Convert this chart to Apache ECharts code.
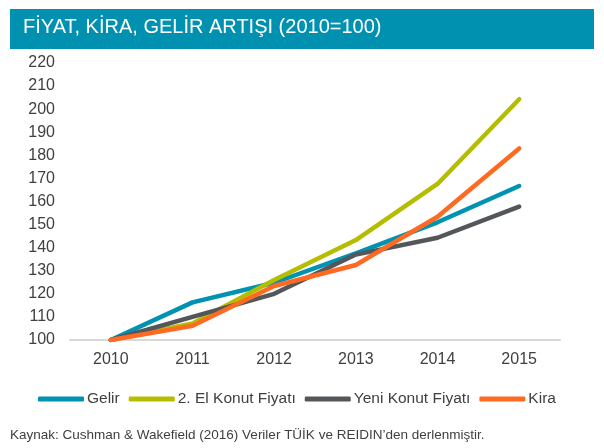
<!DOCTYPE html>
<html>
<head>
<meta charset="utf-8">
<script src="https://cdn.jsdelivr.net/npm/echarts@6/dist/echarts.min.js"></script>
<style>
html,body{margin:0;padding:0;background:#fff;}
#wrap{position:relative;width:604px;height:448px;}
#chart{position:absolute;left:0;top:0;width:604px;height:448px;}
</style>
</head>
<body>
<div id="wrap"><div id="chart"></div></div>
<script>
const titleText = 'FİYAT, KİRA, GELİR ARTIŞI (2010=100)';
const sourceText = 'Kaynak: Cushman & Wakefield (2016) Veriler TÜİK ve REIDIN’den derlenmiştir.';
const years = ['2010', '2011', '2012', '2013', '2014', '2015'];
const seriesNames = ['Gelir', '2. El Konut Fiyatı', 'Yeni Konut Fiyatı', 'Kira'];
const gelir = [100, 116.3, 124.8, 137.5, 151, 166.7];
const ikinciEl = [100, 107.2, 126, 143.3, 167.6, 204.3];
const yeniKonut = [100, 110, 120, 137, 144.3, 157.8];
const kira = [100, 106.2, 123.4, 132.5, 153.4, 183];
const colors = ['#0092B1', '#B5BD00', '#54575A', '#FF6A22'];
const yMin = 100, yMax = 220, yStep = 10;

const values = [gelir, ikinciEl, yeniKonut, kira];
const font = 'Liberation Sans, Arial, sans-serif';
const chart = echarts.init(document.getElementById('chart'), null, {renderer: 'canvas'});
chart.setOption({
  animation: false,
  backgroundColor: '#fff',
  graphic: [
    {type: 'rect', left: 10, top: 9, shape: {width: 584, height: 40}, style: {fill: '#0091B0'}},
    {type: 'text', left: 23, top: 17, style: {text: titleText, fill: '#fff', font: '20px ' + font}},
    {type: 'text', left: 10, top: 428, style: {text: sourceText, fill: '#404040', font: '13.5px ' + font}}
  ],
  grid: {left: 70, right: 44, top: 63, bottom: 108, containLabel: false},
  legend: {
    data: seriesNames,
    bottom: 36,
    left: 33,
    itemWidth: 46,
    itemHeight: 5,
    itemGap: 9,
    icon: 'roundRect',
    textStyle: {color: '#404040', fontSize: 15.5, fontFamily: font, padding: [0, 0, 0, -2]}
  },
  xAxis: {
    type: 'category',
    data: years,
    boundaryGap: true,
    axisLine: {lineStyle: {color: '#D9D9D9', width: 2}},
    axisTick: {show: false},
    axisLabel: {color: '#404040', fontSize: 16, fontFamily: font, margin: 12}
  },
  yAxis: {
    type: 'value',
    min: yMin, max: yMax, interval: yStep,
    axisLine: {show: false},
    axisTick: {show: false},
    splitLine: {show: false},
    axisLabel: {color: '#404040', fontSize: 16, fontFamily: font, margin: 15}
  },
  series: seriesNames.map((n, i) => ({
    name: n,
    type: 'line',
    data: values[i],
    symbol: 'none',
    color: colors[i],
    lineStyle: {width: 4.5, color: colors[i], cap: 'round', join: 'round'}
  }))
});
</script>
</body>
</html>
